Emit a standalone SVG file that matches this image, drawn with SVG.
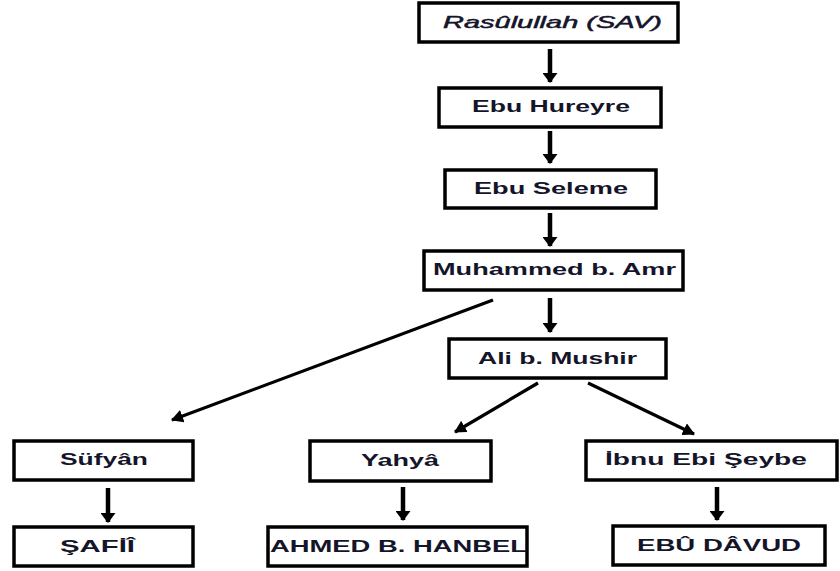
<svg xmlns="http://www.w3.org/2000/svg" width="840" height="571" viewBox="0 0 840 571">
<style>
.box{fill:#fff;stroke:#000;stroke-width:3.5}
.t{font-family:"Liberation Sans",Arial,sans-serif;font-size:17px;font-weight:bold;fill:#15152a}
.ti{font-family:"Liberation Sans",Arial,sans-serif;font-size:17px;font-style:italic;fill:#15152a;stroke:#15152a;stroke-width:0.5}
.c{stroke:#000;stroke-width:4.5;fill:none;marker-end:url(#ah)}
.d{stroke:#000;stroke-width:3.2;fill:none;marker-end:url(#ah2)}
</style>
<defs>
<marker id="ah" viewBox="0 0 10 15" refX="9" refY="7.5" markerWidth="10" markerHeight="15" markerUnits="userSpaceOnUse" orient="auto">
<path d="M0,0 L10,7.5 L0,15 z" fill="#000"/>
</marker>
<marker id="ah2" viewBox="0 0 12 13" refX="11" refY="6.5" markerWidth="12" markerHeight="13" markerUnits="userSpaceOnUse" orient="auto">
<path d="M0,0 L12,6.5 L0,13 z" fill="#000"/>
</marker>
</defs>
<rect width="840" height="571" fill="#fff"/>
<g id="connectors">
<line class="c" x1="550" y1="49" x2="550" y2="82"/>
<line class="c" x1="550" y1="131" x2="550" y2="163"/>
<line class="c" x1="550" y1="213" x2="550" y2="246"/>
<line class="c" x1="550" y1="298" x2="550" y2="332"/>
<line class="d" x1="493" y1="300" x2="172" y2="420"/>
<line class="d" x1="538" y1="383" x2="455" y2="432"/>
<line class="d" x1="588" y1="383" x2="694" y2="434"/>
<line class="c" x1="108" y1="488" x2="108" y2="522"/>
<line class="c" x1="403" y1="487" x2="403" y2="520"/>
<line class="c" x1="717" y1="487" x2="717" y2="520"/>
</g>
<g id="rasulullah"><rect class="box" x="419" y="3" width="259" height="39"/><text class="ti" x="443" y="28" textLength="219" lengthAdjust="spacingAndGlyphs">Rasûlullah (SAV)</text></g>
<g id="ebu-hureyre"><rect class="box" x="439" y="88" width="222" height="39"/><text class="t" x="472" y="112" textLength="158" lengthAdjust="spacingAndGlyphs">Ebu Hureyre</text></g>
<g id="ebu-seleme"><rect class="box" x="445" y="170" width="211" height="38"/><text class="t" x="474" y="194" textLength="154" lengthAdjust="spacingAndGlyphs">Ebu Seleme</text></g>
<g id="muhammed"><rect class="box" x="424" y="251" width="259" height="39"/><text class="t" x="433" y="275" textLength="243" lengthAdjust="spacingAndGlyphs">Muhammed b. Amr</text></g>
<g id="ali"><rect class="box" x="449" y="339" width="217" height="39"/><text class="t" x="478" y="364" textLength="159" lengthAdjust="spacingAndGlyphs">Ali b. Mushir</text></g>
<g id="sufyan"><rect class="box" x="14" y="441" width="179" height="39"/><text class="t" x="60" y="465" textLength="88" lengthAdjust="spacingAndGlyphs">Süfyân</text></g>
<g id="safii"><rect class="box" x="14" y="527" width="179" height="39"/><text class="t" x="60" y="552" textLength="75" lengthAdjust="spacingAndGlyphs">ŞAFİÎ</text></g>
<g id="yahya"><rect class="box" x="310" y="441" width="181" height="40"/><text class="t" x="361" y="466" textLength="78" lengthAdjust="spacingAndGlyphs">Yahyâ</text></g>
<g id="ahmed"><rect class="box" x="268" y="527" width="259" height="39"/><text class="t" x="270" y="552" textLength="257" lengthAdjust="spacingAndGlyphs">AHMED B. HANBEL</text></g>
<g id="ibnu"><rect class="box" x="586" y="441" width="251" height="39"/><text class="t" x="605" y="465" textLength="202" lengthAdjust="spacingAndGlyphs">İbnu Ebi Şeybe</text></g>
<g id="ebu-davud"><rect class="box" x="613" y="526" width="212" height="39"/><text class="t" x="637" y="551" textLength="164" lengthAdjust="spacingAndGlyphs">EBÛ DÂVUD</text></g>
</svg>
